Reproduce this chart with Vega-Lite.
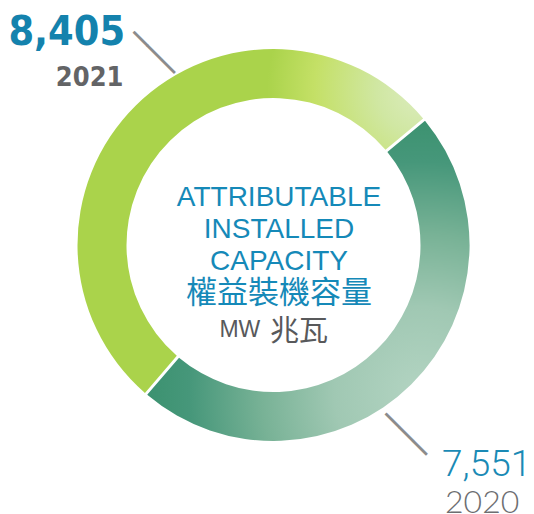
{
  "$schema": "https://vega.github.io/schema/vega-lite/v6.json",
  "width": 521,
  "height": 490,
  "autosize": "none",
  "padding": {"left": 13, "top": 0, "right": 0, "bottom": 24},
  "background": "white",
  "config": {"view": {"stroke": null}},
  "layer": [
    {
      "data": {"values": [
        {"year": "2020", "capacity": 7551},
        {"year": "2021", "capacity": 8405}
      ]},
      "encoding": {
        "theta": {"field": "capacity", "type": "quantitative", "stack": true, "scale": {"range": [0.876, 7.1592]}},
        "order": {"field": "year", "type": "ordinal", "sort": "ascending"}
      },
      "layer": [
        {
          "mark": {"type": "arc", "outerRadius": 196, "innerRadius": 147, "padAngle": 0.012},
          "encoding": {
            "fill": {
              "condition": {
                "test": "datum.year === '2021'",
                "value": {"gradient": "radial", "x1": 1.0, "y1": 0.12, "r1": 0, "x2": 1.0, "y2": 0.12, "r2": 0.45,
                  "stops": [
                    {"offset": 0, "color": "#dcecc0"},
                    {"offset": 0.3, "color": "#d0e7a2"},
                    {"offset": 0.7, "color": "#c4e066"},
                    {"offset": 1, "color": "#aad34b"}
                  ]}
              },
              "value": {"gradient": "radial", "x1": 0.85, "y1": 0.85, "r1": 0, "x2": 0.85, "y2": 0.85, "r2": 0.9,
                "stops": [
                  {"offset": 0, "color": "#b3d4c2"},
                  {"offset": 0.3, "color": "#a0c8b3"},
                  {"offset": 0.55, "color": "#78b296"},
                  {"offset": 0.8, "color": "#46977a"},
                  {"offset": 1, "color": "#38906c"}
                ]}
            }
          }
        },
        {
          "mark": {"type": "text", "radius": 225, "angle": 45, "align": "center", "baseline": "middle", "font": "DejaVu Sans Mono", "fontSize": 32, "color": "#8c8c8c", "dx": 4.4, "dy": -49.4},
          "encoding": {"text": {"condition": {"test": "datum.year === '2021'", "value": "───"}, "value": ""}}
        },
        {
          "mark": {"type": "text", "radius": 225, "angle": 45, "align": "center", "baseline": "middle", "font": "DejaVu Sans Mono", "fontSize": 32, "color": "#8c8c8c", "dx": 2.7, "dy": 39.5},
          "encoding": {"text": {"condition": {"test": "datum.year === '2020'", "value": "───"}, "value": ""}}
        },
        {
          "mark": {"type": "text", "radius": 300, "align": "center", "baseline": "alphabetic", "font": "DejaVu Sans Condensed", "fontWeight": "bold", "fontSize": 41, "color": "#1482ad", "dx": 4, "dy": 13.6},
          "encoding": {"text": {"condition": {"test": "datum.year === '2021'", "field": "capacity", "type": "quantitative", "format": ","}, "value": ""}}
        },
        {
          "mark": {"type": "text", "radius": 300, "align": "right", "baseline": "alphabetic", "font": "DejaVu Sans Condensed", "fontWeight": "bold", "fontSize": 27, "color": "#636466", "dx": 60.7, "dy": 54.6},
          "encoding": {"text": {"condition": {"test": "datum.year === '2021'", "field": "year", "type": "nominal"}, "value": ""}}
        },
        {
          "mark": {"type": "text", "radius": 300, "align": "left", "baseline": "alphabetic", "font": "Roboto", "fontWeight": 300, "fontSize": 37, "color": "#1a8ab5", "dx": -42.2, "dy": 17.4},
          "encoding": {"text": {"condition": {"test": "datum.year === '2020'", "field": "capacity", "type": "quantitative", "format": ","}, "value": ""}}
        },
        {
          "mark": {"type": "text", "radius": 300, "align": "left", "baseline": "alphabetic", "font": "Lato", "fontWeight": 300, "fontSize": 32, "color": "#6d6e71", "dx": -39.2, "dy": 54},
          "encoding": {"text": {"condition": {"test": "datum.year === '2020'", "field": "year", "type": "nominal"}, "value": ""}}
        }
      ]
    },
    {
      "data": {"values": [
        {"en": "ATTRIBUTABLE\nINSTALLED\nCAPACITY", "zh": "權益裝機容量", "mw": "MW", "mwZh": "兆瓦"}
      ]},
      "layer": [
        {
          "mark": {"type": "text", "align": "center", "baseline": "alphabetic", "lineBreak": "\n", "lineHeight": 32.2, "font": "Liberation Sans", "fontSize": 28, "color": "#1589b8", "dx": 5.5, "dy": -39.3},
          "encoding": {"text": {"field": "en", "type": "nominal"}}
        },
        {
          "mark": {"type": "text", "align": "center", "baseline": "alphabetic", "font": "Noto Sans CJK TC", "fontSize": 31, "color": "#1589b8", "dx": 5.5, "dy": 58},
          "encoding": {"text": {"field": "zh", "type": "nominal"}}
        },
        {
          "mark": {"type": "text", "align": "right", "baseline": "alphabetic", "font": "Liberation Sans", "fontSize": 23, "color": "#58595b", "dx": -13.2, "dy": 91.7},
          "encoding": {"text": {"field": "mw", "type": "nominal"}}
        },
        {
          "mark": {"type": "text", "align": "left", "baseline": "alphabetic", "font": "Noto Sans CJK TC", "fontSize": 29, "color": "#58595b", "dx": -3.5, "dy": 95.5},
          "encoding": {"text": {"field": "mwZh", "type": "nominal"}}
        }
      ]
    }
  ]
}
